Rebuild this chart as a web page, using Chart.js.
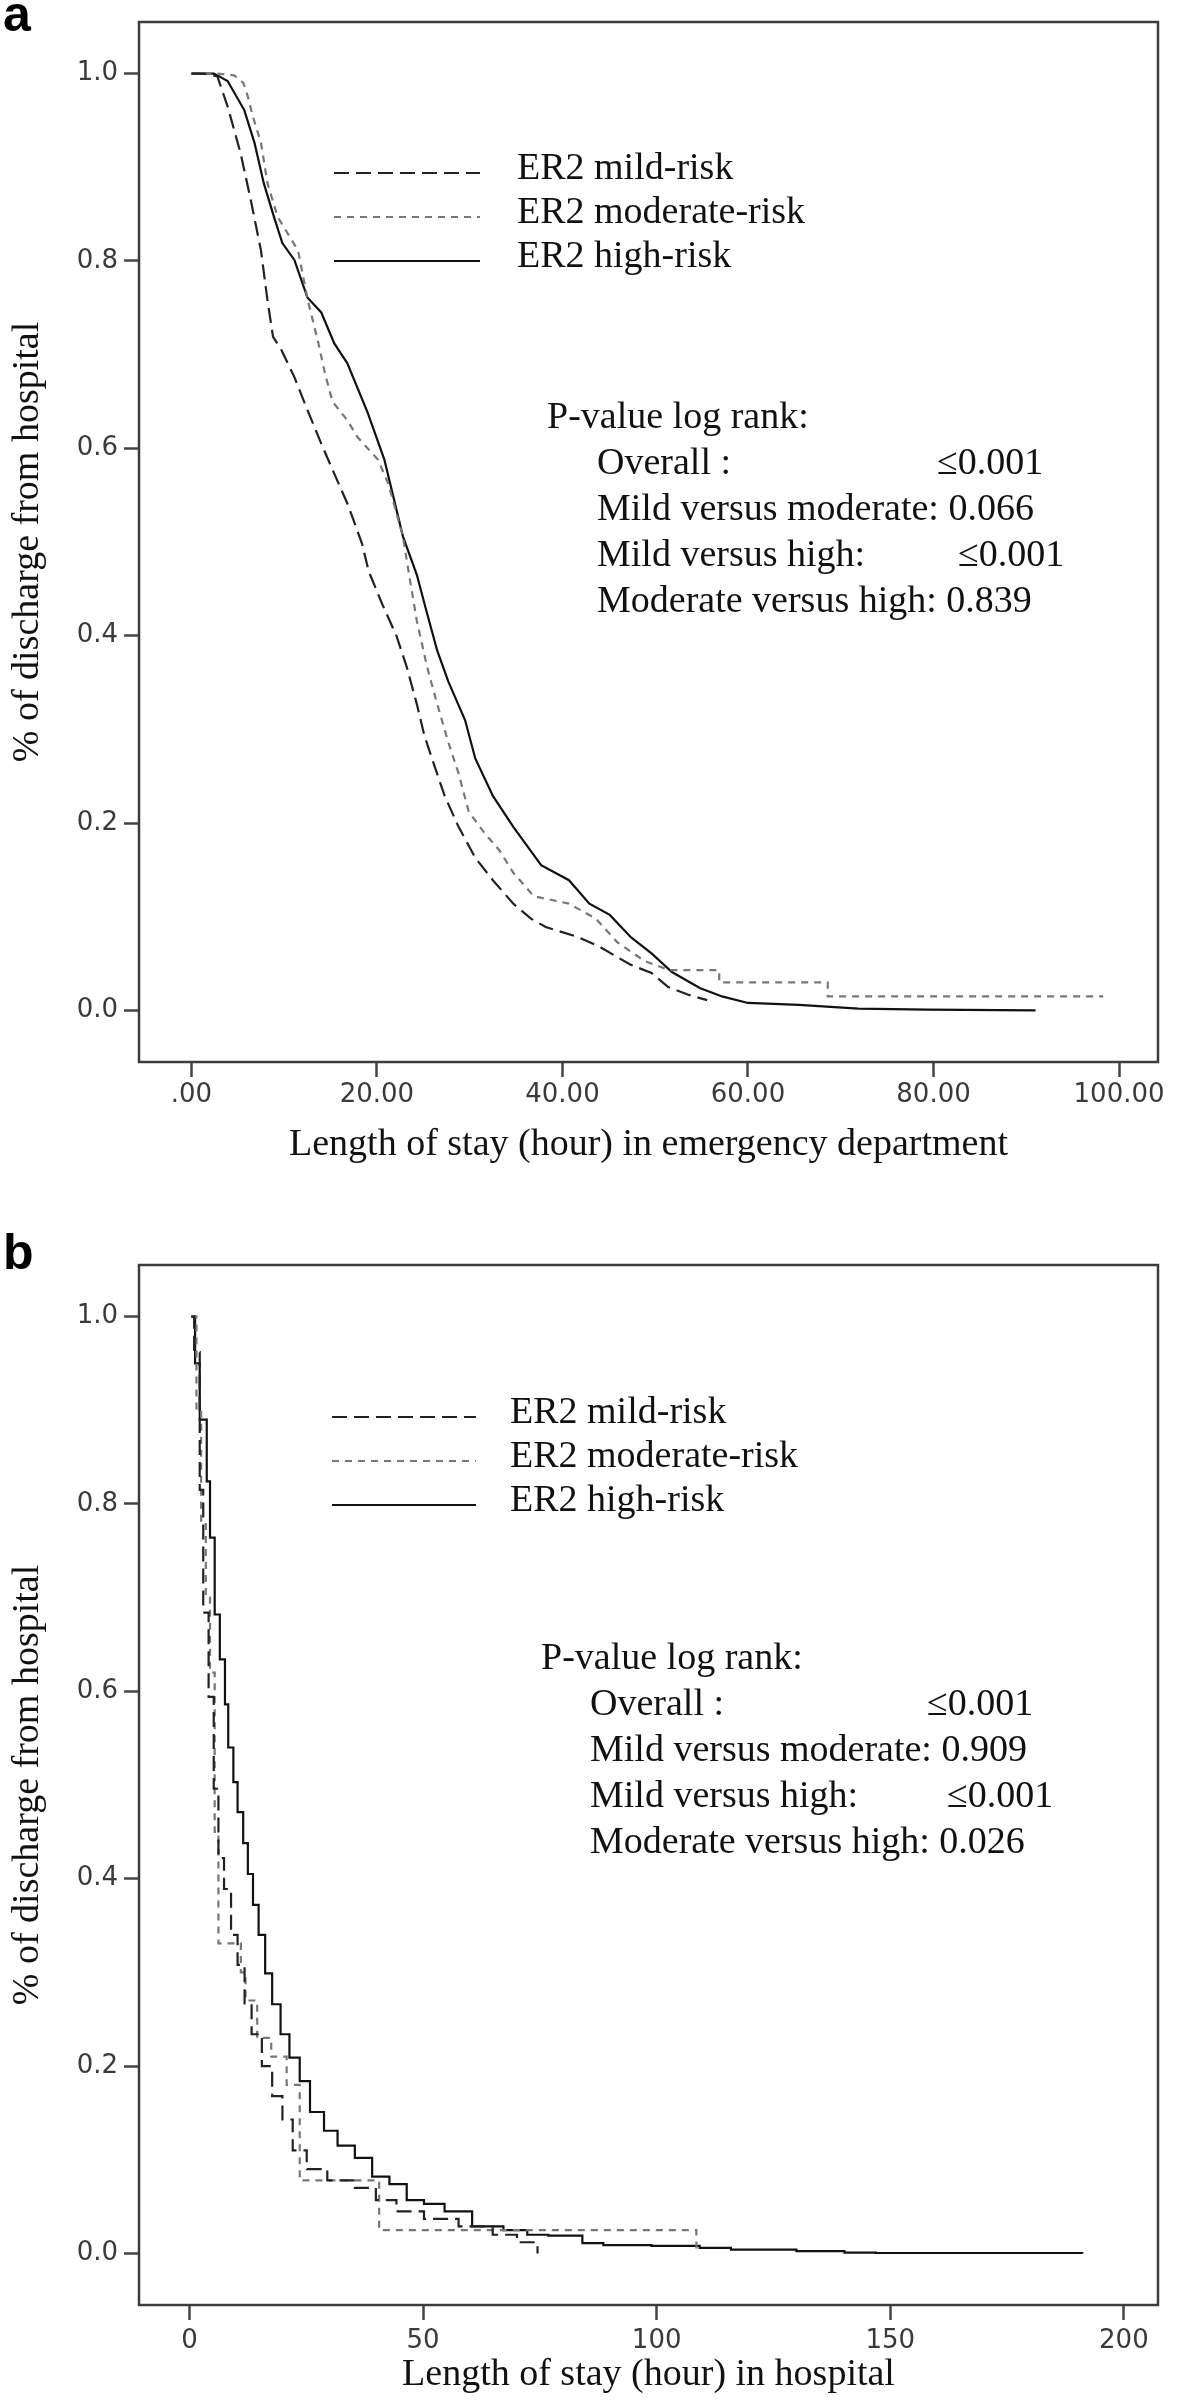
<!DOCTYPE html>
<html>
<head>
<meta charset="utf-8">
<title>Length of stay by ER2 risk group</title>
<script src="https://cdn.jsdelivr.net/npm/chart.js@4.4.1/dist/chart.umd.min.js"></script>
<style>
  body { margin: 0; background: #fff; }
  #page { position: relative; width: 1181px; height: 2403px; }
  .panel { position: absolute; left: 0; }
  .tag { position: absolute; left: 3px; font: bold 50px "Liberation Sans", Arial, sans-serif; line-height: 50px; color: #000; }
</style>
</head>
<body>
<div id="page">
  <div class="tag" style="top:-11px">a</div>
  <div class="panel" style="top:0"><canvas id="chartA" width="1181" height="1200"></canvas></div>
  <div class="tag" style="top:1227px">b</div>
  <div class="panel" style="top:1200px"><canvas id="chartB" width="1181" height="1203"></canvas></div>
</div>
<script>
// series names shared by both panels
const seriesNames = ['ER2 mild-risk', 'ER2 moderate-risk', 'ER2 high-risk'];

// axis ticks
const yTicks = [0, 0.2, 0.4, 0.6, 0.8, 1.0];
const yTickLabels = ['0.0', '0.2', '0.4', '0.6', '0.8', '1.0'];
const edTicks = [0, 20, 40, 60, 80, 100];
const edTickLabels = ['.00', '20.00', '40.00', '60.00', '80.00', '100.00'];
const hospTicks = [0, 50, 100, 150, 200];
const hospTickLabels = ['0', '50', '100', '150', '200'];

// panel a: length of stay in emergency department (hours) vs proportion still in ED
const edMildHours = [0, 1.3, 2.8, 3.9, 5.3, 6.4, 7.5, 8.2, 8.8, 9.7, 11.1, 12.5, 14.0, 15.4, 16.9, 18.4, 19.1, 20.6, 22.1, 23.2, 24.3, 25.1, 26.2, 27.3, 28.8, 30.6, 32.5, 34.7, 36.6, 38.2, 41.5, 44.0, 47.3, 49.6, 51.4, 53.5, 55.6];
const edMildSurv = [1.0, 1.0, 0.997, 0.965, 0.915, 0.865, 0.811, 0.758, 0.719, 0.705, 0.676, 0.641, 0.605, 0.573, 0.539, 0.498, 0.469, 0.433, 0.400, 0.367, 0.327, 0.294, 0.261, 0.229, 0.196, 0.163, 0.139, 0.114, 0.098, 0.089, 0.079, 0.068, 0.049, 0.040, 0.025, 0.017, 0.011];
const edModHours = [0, 2.8, 4.6, 5.6, 6.1, 6.6, 7.5, 8.2, 9.3, 10.4, 11.5, 12.5, 13.6, 14.4, 15.2, 16.8, 17.9, 20.1, 21.2, 22.8, 23.6, 24.3, 25.4, 26.5, 27.7, 28.8, 29.9, 31.7, 33.2, 34.7, 36.9, 40.7, 43.6, 45.9, 48.8, 51.5, 56.9, 56.9, 68.6, 68.6, 98.3];
const edModSurv = [1.0, 1.0, 0.998, 0.99, 0.975, 0.955, 0.926, 0.883, 0.847, 0.829, 0.811, 0.760, 0.716, 0.680, 0.650, 0.630, 0.612, 0.588, 0.563, 0.506, 0.457, 0.416, 0.367, 0.327, 0.286, 0.253, 0.212, 0.188, 0.171, 0.147, 0.122, 0.114, 0.098, 0.073, 0.053, 0.043, 0.043, 0.030, 0.030, 0.015, 0.015];
const edHighHours = [0, 2.4, 2.8, 3.9, 5.7, 6.8, 7.8, 8.9, 9.8, 11.1, 12.5, 14.0, 15.4, 16.8, 19.0, 20.8, 22.8, 24.3, 25.4, 26.5, 27.7, 29.5, 30.6, 32.5, 34.7, 37.7, 40.7, 42.9, 45.1, 47.4, 49.6, 51.8, 54.8, 57.2, 60.0, 65.5, 71.9, 79.3, 91.0];
const edHighSurv = [1.0, 1.0, 0.998, 0.992, 0.961, 0.926, 0.883, 0.847, 0.819, 0.801, 0.761, 0.745, 0.712, 0.691, 0.638, 0.588, 0.506, 0.465, 0.424, 0.384, 0.351, 0.310, 0.269, 0.229, 0.196, 0.155, 0.139, 0.114, 0.102, 0.078, 0.061, 0.041, 0.024, 0.015, 0.008, 0.006, 0.002, 0.001, 0.0];

// panel b: length of stay in hospital (hours)
const hospMildHours = [0.4, 1.0, 2.2, 2.95, 4.1, 5.2, 6.2, 7.4, 8.9, 10.3, 11.8, 13.3, 15.5, 17.7, 19.9, 22.1, 25.1, 29.5, 35.4, 39.9, 44.3, 50.2, 57.6, 64.9, 70.1, 74.5];
const hospMildSurv = [1.0, 0.962, 0.815, 0.684, 0.594, 0.496, 0.422, 0.389, 0.340, 0.308, 0.267, 0.234, 0.200, 0.168, 0.143, 0.110, 0.090, 0.078, 0.070, 0.057, 0.045, 0.037, 0.029, 0.020, 0.012, 0.0];
const hospModHours = [0.4, 1.5, 2.5, 3.5, 4.4, 5.4, 6.2, 11.0, 12.0, 14.5, 17.5, 20.8, 23.6, 40.6, 108.5];
const hospModSurv = [1.0, 0.90, 0.78, 0.70, 0.62, 0.45, 0.331, 0.30, 0.27, 0.23, 0.21, 0.18, 0.078, 0.025, 0.0];
const hospHighHours = [0.4, 1.2, 2.2, 3.7, 4.4, 5.4, 6.5, 7.6, 8.3, 9.4, 10.3, 11.5, 12.5, 13.6, 14.8, 16.2, 17.7, 19.5, 21.4, 23.6, 25.8, 28.8, 31.7, 35.4, 39.1, 42.8, 46.5, 50.2, 54.6, 60.5, 67.2, 72.3, 76.8, 84.1, 88.6, 98.9, 109.2, 115.9, 129.9, 140.2, 146.9, 191.1];
const hospHighSurv = [1.0, 0.95, 0.89, 0.824, 0.764, 0.682, 0.634, 0.586, 0.54, 0.503, 0.471, 0.438, 0.405, 0.372, 0.340, 0.299, 0.266, 0.234, 0.209, 0.184, 0.151, 0.131, 0.115, 0.102, 0.082, 0.074, 0.057, 0.053, 0.045, 0.029, 0.025, 0.020, 0.019, 0.011, 0.009, 0.008, 0.006, 0.004, 0.0025, 0.001, 0.0005, 0.0];

// log rank text
const pTitle = 'P-value log rank:';
const pLabels = ['Overall :', 'Mild versus moderate:', 'Mild versus high:', 'Moderate versus high:'];
const edPValues = ['\u22640.001', '0.066', '\u22640.001', '0.839'];
const hospPValues = ['\u22640.001', '0.909', '\u22640.001', '0.026'];

const SERIF = '"Liberation Serif", "Times New Roman", serif';
const lineStyles = [
    { color: '#222', dash: [15, 7] },
    { color: '#777', dash: [7, 6] },
    { color: '#111', dash: [] }
];

const toPoints = (xs, ys) => xs.map((x, i) => ({ x: x, y: ys[i] }));

// box round the plot area, legend samples and the log rank block
const frameNotes = {
    id: 'frameNotes',
    afterDraw(chart, args, opts) {
        const ctx = chart.ctx;
        const a = chart.chartArea;
        ctx.save();
        ctx.setLineDash([]);
        ctx.strokeStyle = '#3c3c3c';
        ctx.lineWidth = 2.5;
        ctx.strokeRect(a.left, a.top, a.right - a.left, a.bottom - a.top);

        ctx.font = '38px ' + SERIF;
        ctx.textBaseline = 'middle';
        ctx.fillStyle = '#111';
        const lg = opts.legend;
        chart.data.datasets.forEach((ds, i) => {
            const y = lg.y + i * lg.dy;
            ctx.beginPath();
            ctx.setLineDash(ds.borderDash);
            ctx.strokeStyle = ds.borderColor;
            ctx.lineWidth = ds.borderWidth;
            ctx.moveTo(lg.x0, y);
            ctx.lineTo(lg.x1, y);
            ctx.stroke();
            ctx.fillText(ds.label, lg.textX, y - 4);
        });

        // values either sit at a set x (the padded rows) or follow the label
        const s = opts.stats;
        ctx.fillText(pTitle, s.x, s.y);
        pLabels.forEach((lab, i) => {
            const y = s.y + (i + 1) * s.dy;
            if (s.valueX[i] === null) {
                ctx.fillText(lab + ' ' + s.values[i], s.indentX, y);
            } else {
                ctx.fillText(lab, s.indentX, y);
                ctx.fillText(s.values[i], s.valueX[i], y);
            }
        });
        ctx.restore();
    }
};

function makeChart(canvasId, cfg) {
    const datasets = cfg.series.map((pts, i) => ({
        label: seriesNames[i],
        data: pts,
        borderColor: lineStyles[i].color,
        borderDash: lineStyles[i].dash,
        borderWidth: 2.2,
        pointRadius: 0,
        tension: 0,
        stepped: cfg.stepped,
        fill: false
    }));

    return new Chart(document.getElementById(canvasId), {
        type: 'line',
        data: { datasets: datasets },
        plugins: [frameNotes],
        options: {
            responsive: false,
            animation: false,
            devicePixelRatio: 1,
            layout: { padding: cfg.padding },
            scales: {
                x: {
                    type: 'linear',
                    min: cfg.xMin,
                    max: cfg.xMax,
                    afterBuildTicks: (s) => { s.ticks = cfg.xTicks.map(v => ({ value: v })); },
                    afterFit: (s) => { s.height = cfg.xAxisHeight; },
                    border: { display: false },
                    grid: { drawOnChartArea: false, tickLength: 15, tickWidth: 2.5, tickColor: '#444' },
                    ticks: {
                        padding: cfg.xTickPad,
                        color: '#3a3a3a',
                        font: { family: 'DejaVu Sans', size: 26 },
                        maxRotation: 0,
                        callback: (v) => cfg.xTickLabels[cfg.xTicks.indexOf(v)]
                    },
                    title: { display: true, text: cfg.xTitle, color: '#111', font: { family: SERIF, size: 38 }, padding: 0 }
                },
                y: {
                    min: -0.055,
                    max: 1.055,
                    afterBuildTicks: (s) => { s.ticks = yTicks.map(v => ({ value: v })); },
                    afterFit: (s) => { s.width = 139; },
                    border: { display: false },
                    grid: { drawOnChartArea: false, tickLength: 15, tickWidth: 2.5, tickColor: '#444' },
                    ticks: {
                        padding: 6,
                        color: '#3a3a3a',
                        font: { family: 'DejaVu Sans', size: 26 },
                        callback: (v) => yTickLabels[yTicks.indexOf(v)]
                    },
                    title: { display: true, text: '% of discharge from hospital', color: '#111', font: { family: SERIF, size: 38 }, padding: { top: 5, bottom: 0 } }
                }
            },
            plugins: {
                legend: { display: false },
                tooltip: { enabled: false },
                frameNotes: { legend: cfg.legend, stats: cfg.stats }
            }
        }
    });
}

makeChart('chartA', {
    series: [
        toPoints(edMildHours, edMildSurv),
        toPoints(edModHours, edModSurv),
        toPoints(edHighHours, edHighSurv)
    ],
    stepped: false,
    xMin: -5.65, xMax: 104.2,
    xTicks: edTicks, xTickLabels: edTickLabels,
    xTitle: 'Length of stay (hour) in emergency department',
    padding: { top: 22, right: 23, bottom: 32, left: 0 },
    xAxisHeight: 106,
    xTickPad: 3,
    legend: { x0: 334, x1: 480, textX: 517, y: 173, dy: 44 },
    stats: { x: 547, indentX: 597, y: 418, dy: 46, values: edPValues, valueX: [937, null, 958, null] }
});

makeChart('chartB', {
    series: [
        toPoints(hospMildHours, hospMildSurv),
        toPoints(hospModHours, hospModSurv),
        toPoints(hospHighHours, hospHighSurv)
    ],
    stepped: true,
    xMin: -10.8, xMax: 207.3,
    xTicks: hospTicks, xTickLabels: hospTickLabels,
    xTitle: 'Length of stay (hour) in hospital',
    padding: { top: 65, right: 23, bottom: 5, left: 0 },
    xAxisHeight: 93,
    xTickPad: 6,
    legend: { x0: 332, x1: 476, textX: 510, y: 217, dy: 44 },
    stats: { x: 541, indentX: 590, y: 459, dy: 46, values: hospPValues, valueX: [927, null, 947, null] }
});
</script>
</body>
</html>
